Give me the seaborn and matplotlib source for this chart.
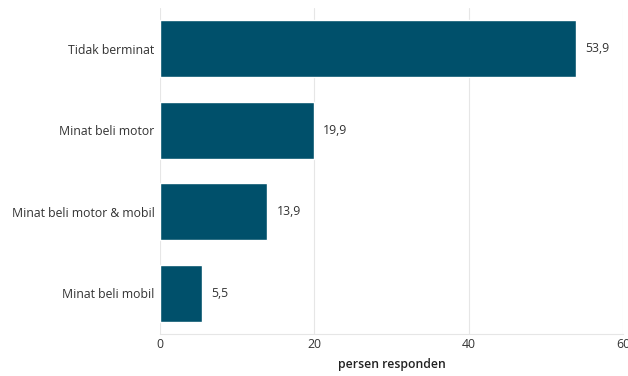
import matplotlib
matplotlib.use("Agg")
import matplotlib.pyplot as plt
import seaborn as sns
import pandas as pd

categories = ["Tidak berminat", "Minat beli motor", "Minat beli motor & mobil", "Minat beli mobil"]
values = [53.9, 19.9, 13.9, 5.5]
xticks = [0, 20, 40, 60]

df = pd.DataFrame({"kategori": categories, "persen": values})

sns.set_theme(style="white")
plt.rcParams['font.family'] = ['Open Sans', 'DejaVu Sans']

fig = plt.figure(figsize=(6.28, 3.76), dpi=100)
ax = fig.add_axes([0.2548, 0.112, 0.7372, 0.866])
sns.barplot(data=df, x="persen", y="kategori", color="#00506B", width=0.7,
            saturation=1, ax=ax, orient="h")
ax.set_xlim(0, 60)
ax.set_ylim(3.5, -0.5)
ax.set_xticks(xticks)
ax.set_xticklabels([str(t) for t in xticks], fontsize=8.8, color="#333333")
ax.tick_params(axis='y', labelsize=8.8, colors="#333333", length=0, pad=4)
ax.tick_params(axis='x', length=0, pad=3)
ax.grid(axis='x', color="#e6e6e6", linewidth=0.8)
ax.set_axisbelow(True)
for s in ["top", "right", "left"]:
    ax.spines[s].set_visible(False)
ax.spines["bottom"].set_color("#e6e6e6")
ax.spines["bottom"].set_linewidth(0.8)
ax.set_ylabel("")
ax.set_xlabel("persen responden", fontsize=8.8, fontweight="semibold", color="#222222", labelpad=5)
for i, v in enumerate(values):
    ax.text(v + 1.2, i, f"{v:.1f}".replace(".", ","), va="center", ha="left",
            fontsize=8.8, color="#333333")
fig.savefig("out.png", dpi=100)
